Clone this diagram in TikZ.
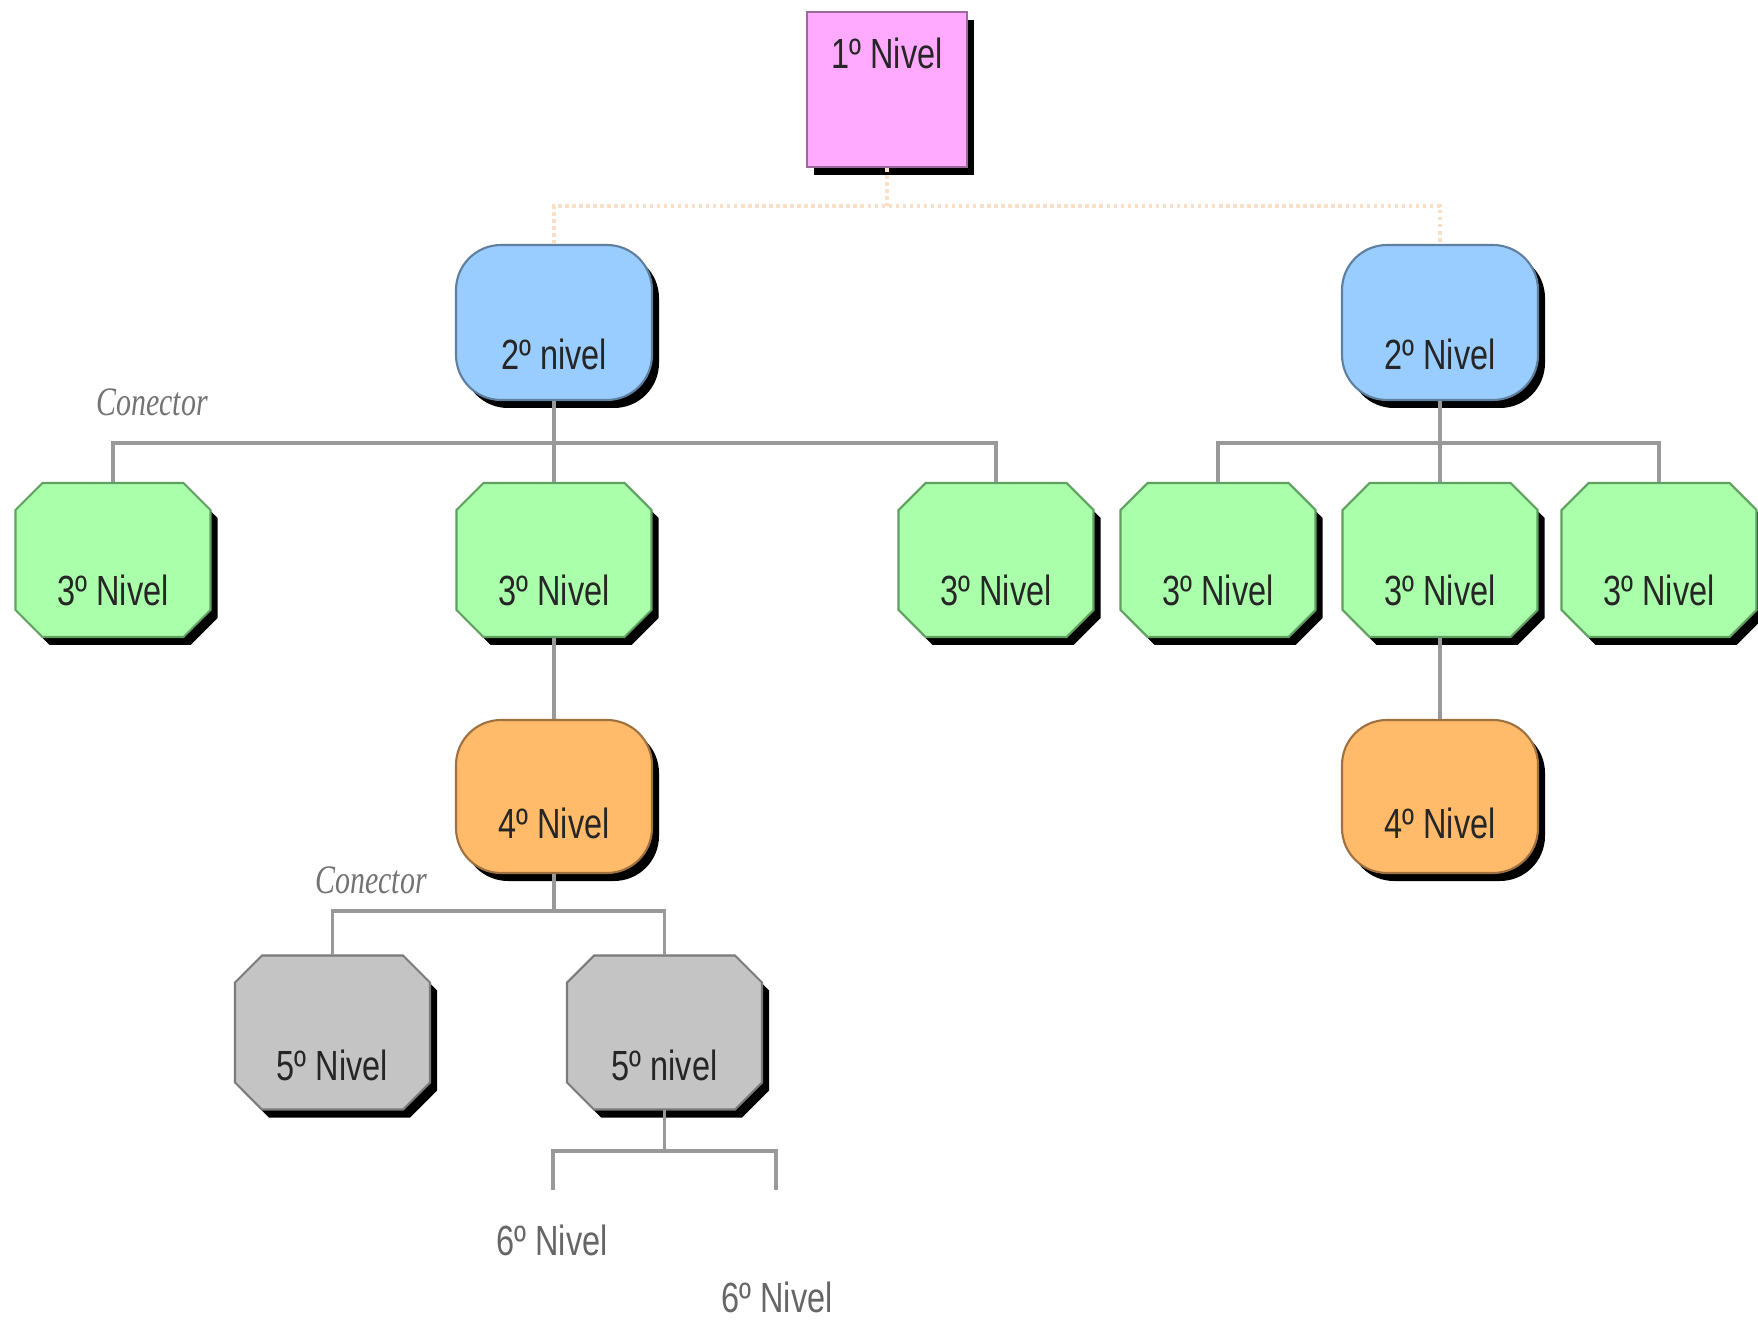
\documentclass[tikz,border=0pt]{standalone}
\usepackage{fontspec}
\setmainfont{Liberation Sans}[FakeStretch=0.77]
\newfontfamily\connfont{Liberation Serif}[FakeStretch=0.74]
\usetikzlibrary{shadows}
\definecolor{pinkfill}{HTML}{FFAAFF}
\definecolor{pinkline}{HTML}{9A6A9A}
\definecolor{bluefill}{HTML}{99CCFF}
\definecolor{blueline}{HTML}{5F7F9F}
\definecolor{greenfill}{HTML}{AAFFAA}
\definecolor{greenline}{HTML}{5F9F5F}
\definecolor{orangefill}{HTML}{FFBB6A}
\definecolor{orangeline}{HTML}{9F7040}
\definecolor{grayfill}{HTML}{C4C4C4}
\definecolor{grayline}{HTML}{7A7A7A}
\definecolor{connline}{HTML}{999999}
\definecolor{dotline}{HTML}{F8E0C8}
\newcommand\octpath{(-0.705,0.77) -- (0.705,0.77) -- (0.975,0.50) -- (0.975,-0.50) -- (0.705,-0.77) -- (-0.705,-0.77) -- (-0.975,-0.50) -- (-0.975,0.50) -- cycle}
\newcommand\octbox[4]{%
  \begin{scope}[shift={#2}]
    \fill[black, xshift=0.07cm, yshift=-0.08cm] \octpath;
    \filldraw[fill=#3, draw=#4, line width=0.6pt] \octpath;
  \end{scope}
  \node[anchorbox] (#1) at #2 {};
}
\begin{document}
\begin{tikzpicture}[x=1cm,y=1cm,
  anchorbox/.style={rectangle, draw=none, inner sep=0pt, minimum width=1.95cm, minimum height=1.54cm},
  shbox/.style={rectangle, line width=0.6pt, inner sep=0pt,
    drop shadow={shadow xshift=0.07cm, shadow yshift=-0.08cm, fill=black, opacity=1}},
  lev1/.style={shbox, fill=pinkfill, draw=pinkline, minimum width=1.60cm, minimum height=1.55cm},
  levround/.style={shbox, rounded corners=0.45cm, minimum width=1.96cm, minimum height=1.55cm},
  lev2/.style={levround, fill=bluefill, draw=blueline},
  lev4/.style={levround, fill=orangefill, draw=orangeline, minimum height=1.53cm},
  lvltext/.style={anchor=base, inner sep=0pt, font=\fontsize{12}{14}\selectfont, text=black!85},
  sixtext/.style={inner sep=0pt, font=\fontsize{12}{14}\selectfont, text=black!60},
  conntext/.style={inner sep=0pt, font=\connfont\itshape\fontsize{11.5}{13}\selectfont, text=black!55},
  conn/.style={draw=connline, line width=0.9pt},
  dotconn/.style={draw=dotline, line width=1pt, densely dotted}
]
\useasboundingbox (0,0) rectangle (17.58,-13.2);

% bus coordinates
\coordinate (busA) at (8.87,-2.06);
\coordinate (busB) at (5.54,-4.43);
\coordinate (busC) at (14.40,-4.43);
\coordinate (busD) at (5.54,-9.11);
\coordinate (busE) at (6.645,-11.51);
\coordinate (e6a) at (5.53,-11.90);
\coordinate (e6b) at (7.76,-11.90);

% level 1
\node[lev1] (l1) at (8.87,-0.895) {};
\node[lvltext] (t1) at ([yshift=-0.58cm]l1.north) {1º Nivel};

% level 2
\node[lev2] (l2a) at (5.54,-3.225) {};
\node[lev2] (l2b) at (14.40,-3.225) {};
\node[lvltext] (t2a) at ([yshift=0.32cm]l2a.south) {2º nivel};
\node[lvltext] (t2b) at ([yshift=0.32cm]l2b.south) {2º Nivel};

% level 3
\octbox{l3a}{(1.13,-5.60)}{greenfill}{greenline}
\octbox{l3b}{(5.54,-5.60)}{greenfill}{greenline}
\octbox{l3c}{(9.96,-5.60)}{greenfill}{greenline}
\octbox{l3d}{(12.18,-5.60)}{greenfill}{greenline}
\octbox{l3e}{(14.40,-5.60)}{greenfill}{greenline}
\octbox{l3f}{(16.59,-5.60)}{greenfill}{greenline}
\foreach \n in {l3a,l3b,l3c,l3d,l3e,l3f}{
  \node[lvltext] (t\n) at ([yshift=0.32cm]\n.south) {3º Nivel};
}

% level 4
\node[lev4] (l4a) at (5.54,-7.965) {};
\node[lev4] (l4b) at (14.40,-7.965) {};
\node[lvltext] (t4a) at ([yshift=0.36cm]l4a.south) {4º Nivel};
\node[lvltext] (t4b) at ([yshift=0.36cm]l4b.south) {4º Nivel};

% level 5
\octbox{l5a}{(3.325,-10.325)}{grayfill}{grayline}
\octbox{l5b}{(6.645,-10.325)}{grayfill}{grayline}
\node[lvltext] (t5a) at ([yshift=0.30cm]l5a.south) {5º Nivel};
\node[lvltext] (t5b) at ([yshift=0.30cm]l5b.south) {5º nivel};

% level 6 texts
\node[sixtext] (t6a) at (5.52,-12.40) {6º Nivel};
\node[sixtext] (t6b) at (7.77,-12.97) {6º Nivel};

% conector labels
\node[conntext] (c1) at (1.52,-4.02) {Conector};
\node[conntext] (c2) at (3.71,-8.80) {Conector};

% connectors
\draw[dotconn] (l1.south) -- (busA);
\draw[dotconn] (l2a.north) |- (busA) -| (l2b.north);

\draw[conn] (l2a.south) -- (l3b.north);
\draw[conn] (l3a.north) |- (busB) -| (l3c.north);
\draw[conn] (l2b.south) -- (l3e.north);
\draw[conn] (l3d.north) |- (busC) -| (l3f.north);

\draw[conn] (l3b.south) -- (l4a.north);
\draw[conn] (l3e.south) -- (l4b.north);

\draw[conn] (l4a.south) -- (busD);
\draw[conn] (l5a.north) |- (busD) -| (l5b.north);

\draw[conn] (l5b.south) -- (busE);
\draw[conn] (e6a) |- (busE) -| (e6b);
\end{tikzpicture}
\end{document}
